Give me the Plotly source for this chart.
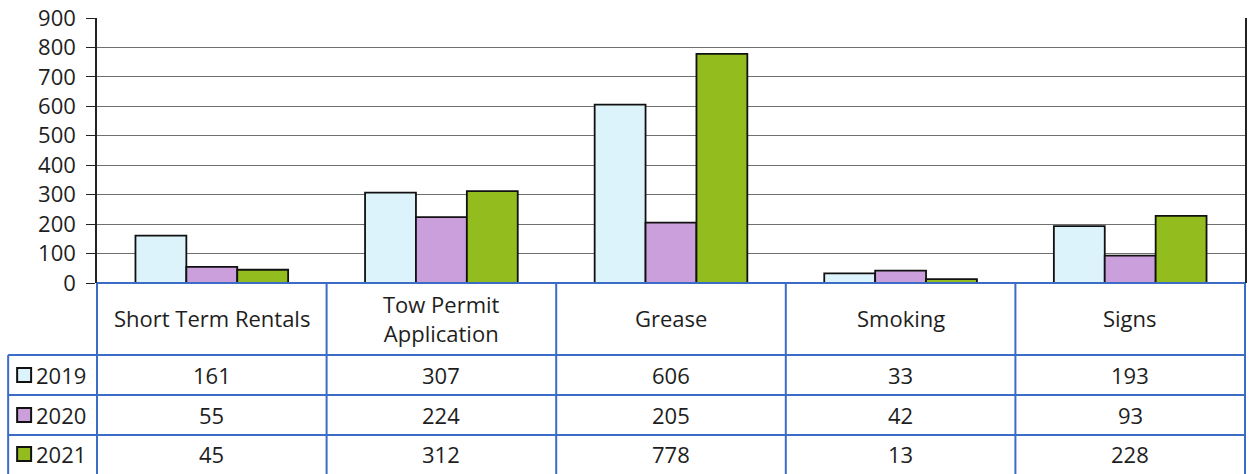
import plotly.graph_objects as go

categories = ["Short Term Rentals", "Tow Permit<br>Application", "Grease", "Smoking", "Signs"]
years = ["2019", "2020", "2021"]
values_2019 = [161, 307, 606, 33, 193]
values_2020 = [55, 224, 205, 42, 93]
values_2021 = [45, 312, 778, 13, 228]
y_ticks = [0, 100, 200, 300, 400, 500, 600, 700, 800, 900]

series = [values_2019, values_2020, values_2021]
colors = ["#DDF3FB", "#CB9FDB", "#93BC1E"]

W, H = 1249, 474
L, R, T, B = 97, 2, 18, 191
PH = H - T - B
BLUE = "#3B6CC6"
FONT = "Open Sans"
TXT = "#1e1e1e"


def px_y(py):
    return (H - B - py) / PH


def px_x(px):
    return (px - L) / (W - L - R)


fig = go.Figure()
for name, vals, col in zip(years, series, colors):
    fig.add_trace(go.Bar(
        x=categories, y=vals, name=name,
        marker=dict(color=col, line=dict(color="#111111", width=1.8)),
        showlegend=False,
    ))

shapes = []
# table horizontal lines
shapes.append(dict(type="line", xref="paper", yref="paper", x0=px_x(97), x1=px_x(1247),
                   y0=px_y(283), y1=px_y(283), line=dict(color=BLUE, width=2)))
for py in [355, 395, 435]:
    shapes.append(dict(type="line", xref="paper", yref="paper", x0=px_x(8), x1=px_x(1247),
                       y0=px_y(py), y1=px_y(py), line=dict(color=BLUE, width=2)))
# table vertical lines
shapes.append(dict(type="line", xref="paper", yref="paper", x0=px_x(8), x1=px_x(8),
                   y0=px_y(355), y1=px_y(474), line=dict(color=BLUE, width=2)))
for k in range(len(categories) + 1):
    xp = 97 + k * (W - L - R) / len(categories)
    shapes.append(dict(type="line", xref="paper", yref="paper", x0=px_x(xp), x1=px_x(xp),
                       y0=px_y(283), y1=px_y(474), line=dict(color=BLUE, width=2)))

annotations = []
for cat in categories:
    annotations.append(dict(x=cat, xref="x", y=px_y(318), yref="paper", text=cat,
                            showarrow=False, font=dict(family=FONT, size=22, color=TXT),
                            xanchor="center", yanchor="middle"))
row_centers = [375, 415, 454]
for i, (name, vals, col) in enumerate(zip(years, series, colors)):
    yc = row_centers[i]
    for cat, v in zip(categories, vals):
        annotations.append(dict(x=cat, xref="x", y=px_y(yc), yref="paper", text=str(v),
                                showarrow=False, font=dict(family=FONT, size=22, color=TXT),
                                xanchor="center", yanchor="middle"))
    # legend key square
    shapes.append(dict(type="rect", xref="paper", yref="paper",
                       x0=px_x(17), x1=px_x(31), y0=px_y(yc - 7), y1=px_y(yc + 7),
                       fillcolor=col, line=dict(color="#111111", width=2)))
    annotations.append(dict(x=px_x(34), xref="paper", y=px_y(yc), yref="paper", text=name,
                            showarrow=False, font=dict(family=FONT, size=22, color=TXT),
                            xanchor="left", yanchor="middle"))

fig.update_layout(
    width=W, height=H,
    margin=dict(l=L, r=R, t=T, b=B, pad=0),
    paper_bgcolor="white", plot_bgcolor="white",
    barmode="group", bargap=0.335, bargroupgap=0,
    shapes=shapes, annotations=annotations,
    xaxis=dict(showticklabels=False, showgrid=False, zeroline=False, showline=False, ticks=""),
    yaxis=dict(range=[0, 900], tickvals=y_ticks, showgrid=True, gridcolor="#6f6f6f", gridwidth=1,
               zeroline=False, showline=True, linecolor="#222222", linewidth=1.5, mirror=True,
               ticks="outside", ticklen=9, tickcolor="#222222", tickwidth=1,
               tickfont=dict(family=FONT, size=22, color=TXT), ticklabelstandoff=6),
)

fig.write_html("out.html", config={"displayModeBar": False},
               post_script="document.body.style.margin='0';")
